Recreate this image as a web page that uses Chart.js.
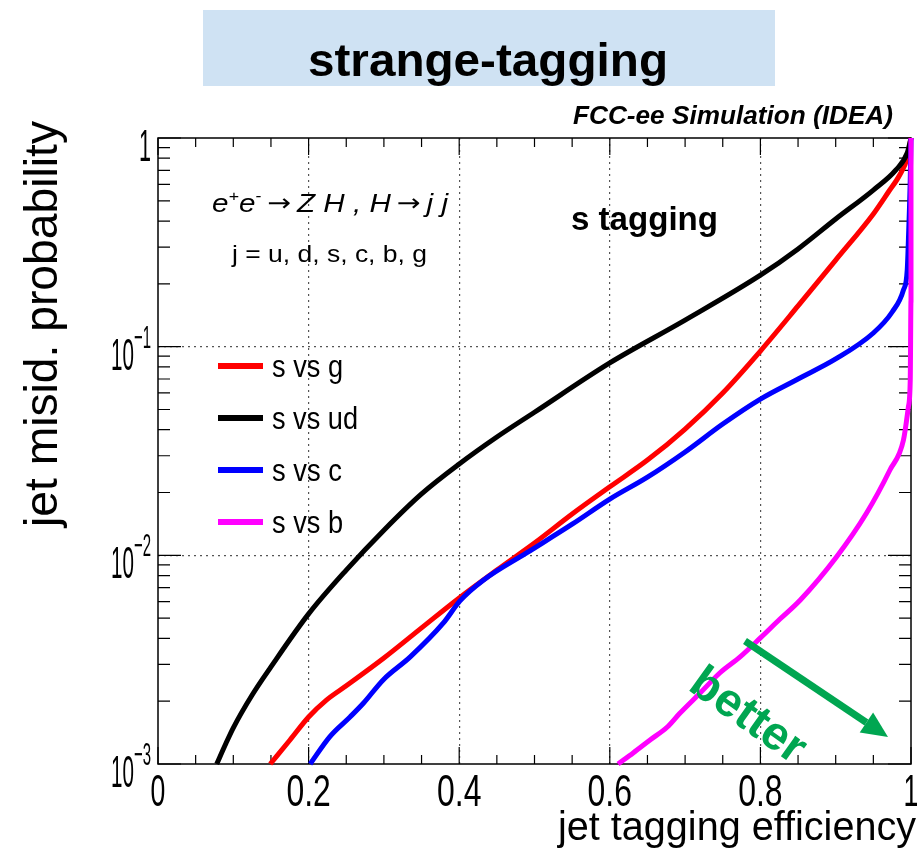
<!DOCTYPE html>
<html lang="en">
<head>
<meta charset="UTF-8">
<title>strange-tagging</title>
<script src="https://cdn.jsdelivr.net/npm/chart.js"></script>
<style>
  html, body { margin: 0; padding: 0; background: #fff; }
</style>
</head>
<body>
<canvas id="roc" width="921" height="855"></canvas>
<script>
// jet tagging efficiency (x) vs jet misid. probability (y)
// s vs g
const gEff = [0.149, 0.175, 0.2, 0.224, 0.25, 0.3, 0.35, 0.4, 0.45, 0.5, 0.55, 0.6, 0.65, 0.7, 0.75, 0.8, 0.85, 0.9, 0.95, 0.97, 0.985, 0.995, 1.0];
const gMis = [0.001, 0.0013, 0.00168, 0.00203, 0.00237, 0.00322, 0.00449, 0.00625, 0.0085, 0.01146, 0.01578, 0.0213, 0.0286, 0.0403, 0.060, 0.0953, 0.1567, 0.260, 0.4325, 0.551, 0.665, 0.802, 1.0];
// s vs ud
const udEff = [0.078, 0.09, 0.1, 0.125, 0.15, 0.2, 0.25, 0.3, 0.35, 0.4, 0.45, 0.5, 0.6, 0.7, 0.8, 0.85, 0.9, 0.95, 0.98, 0.995, 1.0];
const udMis = [0.001, 0.00125, 0.00149, 0.00214, 0.00292, 0.00524, 0.0085, 0.0132, 0.0197, 0.0274, 0.0369, 0.0485, 0.0836, 0.134, 0.220, 0.294, 0.409, 0.563, 0.703, 0.848, 1.0];
// s vs c
const cEff = [0.202, 0.228, 0.255, 0.273, 0.299, 0.335, 0.379, 0.401, 0.432, 0.49, 0.55, 0.6, 0.65, 0.7, 0.75, 0.8, 0.85, 0.9, 0.95, 0.975, 0.99, 0.995, 0.997, 0.999, 1.0];
const cMis = [0.001, 0.00135, 0.00168, 0.00196, 0.00253, 0.00326, 0.00474, 0.00605, 0.0076, 0.0103, 0.0141, 0.0186, 0.0237, 0.0313, 0.0426, 0.0561, 0.070, 0.0873, 0.1163, 0.1466, 0.187, 0.233, 0.362, 0.629, 1.0];
// s vs b
const bEff = [0.611, 0.631, 0.653, 0.676, 0.693, 0.72, 0.746, 0.773, 0.80, 0.826, 0.853, 0.901, 0.941, 0.972, 0.99, 0.9965, 0.999, 1.0, 1.0];
const bMis = [0.001, 0.00113, 0.0013, 0.0015, 0.00175, 0.00219, 0.00273, 0.00326, 0.00402, 0.00495, 0.00611, 0.00982, 0.01595, 0.02564, 0.0357, 0.0514, 0.0692, 0.1675, 1.0];

const seriesNames = ['s vs g', 's vs ud', 's vs c', 's vs b'];
const seriesColors = ['#ff0000', '#000000', '#0000ff', '#ff00ff'];
const seriesEff = [gEff, udEff, cEff, bEff];
const seriesMis = [gMis, udMis, cMis, bMis];

const xTicks = [0, 0.2, 0.4, 0.6, 0.8, 1];
const xTickLabels = ['0', '0.2', '0.4', '0.6', '0.8', '1'];
const yTicks = [1, 0.1, 0.01, 0.001];
const yTickLabels = [['1', ''], ['10', '\u22121'], ['10', '\u22122'], ['10', '\u22123']];

const FONT = '"Liberation Sans", Arial, Helvetica, sans-serif';
const GREEN = '#00a651';

// text squeezed horizontally so that it fills a given width
function fitText(ctx, runs, x, y, width, align, rot) {
  ctx.save();
  let total = 0;
  runs.forEach(r => { ctx.font = r.font; r.w = ctx.measureText(r.t).width + (r.gap || 0); total += r.w; });
  const sx = width ? width / total : 1;
  ctx.translate(x, y);
  if (rot) ctx.rotate(rot);
  ctx.scale(sx, 1);
  let pos = align === 'center' ? -total / 2 : align === 'right' ? -total : 0;
  ctx.textAlign = 'left';
  ctx.textBaseline = 'alphabetic';
  runs.forEach(r => {
    ctx.font = r.font;
    ctx.fillStyle = r.color || '#000';
    ctx.fillText(r.t, pos + (r.gap || 0) / 2, r.dy || 0);
    pos += r.w;
  });
  ctx.restore();
}

const isDecade = v => Math.abs(Math.log10(v) - Math.round(Math.log10(v))) < 1e-9;

const framePlugin = {
  id: 'frame',
  beforeDatasetsDraw(chart) {
    const { ctx, chartArea: a, scales: { x, y } } = chart;
    ctx.save();
    ctx.strokeStyle = '#000';
    ctx.lineWidth = 1.5;
    ctx.strokeRect(a.left, a.top, a.right - a.left, a.bottom - a.top);
    ctx.lineWidth = 1.2;
    ctx.beginPath();
    for (let i = 0; i <= 20; i++) {
      const px = x.getPixelForValue(i * 0.05);
      const len = i % 4 === 0 ? 17 : 9;
      ctx.moveTo(px, a.bottom); ctx.lineTo(px, a.bottom - len);
      ctx.moveTo(px, a.top); ctx.lineTo(px, a.top + len);
    }
    [0.001, 0.01, 0.1].forEach(d => {
      for (let k = 1; k <= 10; k++) {
        const py = y.getPixelForValue(k * d);
        const len = (k === 1 || k === 10) ? 23 : 12;
        ctx.moveTo(a.left, py); ctx.lineTo(a.left + len, py);
        ctx.moveTo(a.right, py); ctx.lineTo(a.right - len, py);
      }
    });
    ctx.stroke();
    ctx.restore();
  }
};

const textPlugin = {
  id: 'texts',
  afterDraw(chart) {
    const { ctx, scales: { x, y } } = chart;
    // slide title
    ctx.save();
    ctx.fillStyle = '#cfe2f3';
    ctx.fillRect(203, 10, 572, 76);
    ctx.restore();
    fitText(ctx, [{ t: 'strange-tagging', font: 'bold 46px ' + FONT }], 488, 76, 360, 'center');
    fitText(ctx, [{ t: 'FCC-ee Simulation (IDEA)', font: 'italic bold 26px ' + FONT }], 893, 124, 320, 'right');

    // tick labels
    xTicks.forEach((v, i) => {
      const lab = xTickLabels[i];
      fitText(ctx, [{ t: lab, font: '44px ' + FONT }], x.getPixelForValue(v), 806, lab.length * 14.8, 'center');
    });
    yTicks.forEach((v, i) => {
      const py = y.getPixelForValue(v);
      const [base, exp] = yTickLabels[i];
      const runs = [{ t: base, font: '44px ' + FONT, dy: 0 }];
      if (exp) runs.push({ t: exp, font: '32px ' + FONT, dy: -22 });
      fitText(ctx, runs, 151, py + 23, exp ? 40 : 12, 'right');
    });

    // axis titles
    fitText(ctx, [{ t: 'jet tagging efficiency', font: '40px ' + FONT }], 916, 840, 358, 'right');
    fitText(ctx, [{ t: 'jet misid. probability', font: '46px ' + FONT }], 57, 121, 406, 'right', -Math.PI / 2);

    // process and jet flavours
    const it = 'italic 25px ' + FONT;
    const sup = 'italic 15px ' + FONT;
    const arr = '24px "DejaVu Sans", ' + FONT;
    fitText(ctx, [
      { t: 'e', font: it }, { t: '+', font: sup, dy: -11 },
      { t: 'e', font: it }, { t: '-', font: sup, dy: -11 },
      { t: '\u2192', font: arr, gap: 10, dy: -1 },
      { t: 'Z H , H', font: it },
      { t: '\u2192', font: arr, gap: 10, dy: -1 },
      { t: 'j j', font: it }
    ], 212, 212, 236, 'left');
    fitText(ctx, [{ t: 'j = u, d, s, c, b, g', font: '24px ' + FONT }], 232, 262, 195, 'left');
    fitText(ctx, [{ t: 's tagging', font: 'bold 33px ' + FONT }], 571, 230, 147, 'left');

    // legend
    const legY = [366, 418, 470, 522];
    const legW = [71, 86, 70, 71];
    seriesNames.forEach((name, i) => {
      ctx.save();
      ctx.strokeStyle = seriesColors[i];
      ctx.lineWidth = 6;
      ctx.beginPath();
      ctx.moveTo(218, legY[i]); ctx.lineTo(263, legY[i]);
      ctx.stroke();
      ctx.restore();
      fitText(ctx, [{ t: name, font: '32px ' + FONT }], 272, legY[i] + 11, legW[i], 'left');
    });

    // "better" arrow
    ctx.save();
    ctx.strokeStyle = GREEN;
    ctx.fillStyle = GREEN;
    ctx.lineWidth = 7;
    const x0 = 745, y0 = 641, x1 = 888, y1 = 737;
    const ang = Math.atan2(y1 - y0, x1 - x0);
    const hl = 26, hw = 12;
    const bx = x1 - hl * Math.cos(ang), by = y1 - hl * Math.sin(ang);
    ctx.beginPath();
    ctx.moveTo(x0, y0); ctx.lineTo(bx, by);
    ctx.stroke();
    ctx.beginPath();
    ctx.moveTo(x1, y1);
    ctx.lineTo(bx + hw * Math.sin(ang), by - hw * Math.cos(ang));
    ctx.lineTo(bx - hw * Math.sin(ang), by + hw * Math.cos(ang));
    ctx.closePath();
    ctx.fill();
    ctx.restore();
    fitText(ctx, [{ t: 'better', font: 'bold 47px ' + FONT, color: GREEN }], 740, 727, 0, 'center', 0.62);
  }
};

new Chart(document.getElementById('roc'), {
  type: 'line',
  data: {
    datasets: seriesNames.map((name, i) => ({
      label: name,
      data: seriesEff[i].map((v, k) => ({ x: v, y: seriesMis[i][k] })),
      borderColor: seriesColors[i],
      backgroundColor: seriesColors[i],
      borderWidth: 5,
      pointRadius: 0,
      cubicInterpolationMode: 'monotone',
      fill: false,
      clip: 8,
      order: 3 - i
    }))
  },
  options: {
    responsive: false,
    animation: false,
    layout: { padding: { left: 158, top: 138, right: 10, bottom: 91 } },
    plugins: { legend: { display: false }, tooltip: { enabled: false } },
    scales: {
      x: {
        type: 'linear', min: 0, max: 1,
        afterFit: s => { s.height = 0; },
        ticks: { display: false, stepSize: 0.2 },
        grid: {
          drawTicks: false,
          lineWidth: 1.2,
          color: c => (c.tick && c.tick.value > 0.01 && c.tick.value < 0.99) ? '#555' : 'rgba(0,0,0,0)'
        },
        border: { display: false, dash: [2, 4] }
      },
      y: {
        type: 'logarithmic', min: 0.001, max: 1,
        afterFit: s => { s.width = 0; },
        ticks: { display: false },
        grid: {
          drawTicks: false,
          lineWidth: 1.2,
          color: c => (c.tick && isDecade(c.tick.value) && c.tick.value > 0.0011 && c.tick.value < 0.99) ? '#555' : 'rgba(0,0,0,0)'
        },
        border: { display: false, dash: [2, 4] }
      }
    }
  },
  plugins: [framePlugin, textPlugin]
});
</script>
</body>
</html>
